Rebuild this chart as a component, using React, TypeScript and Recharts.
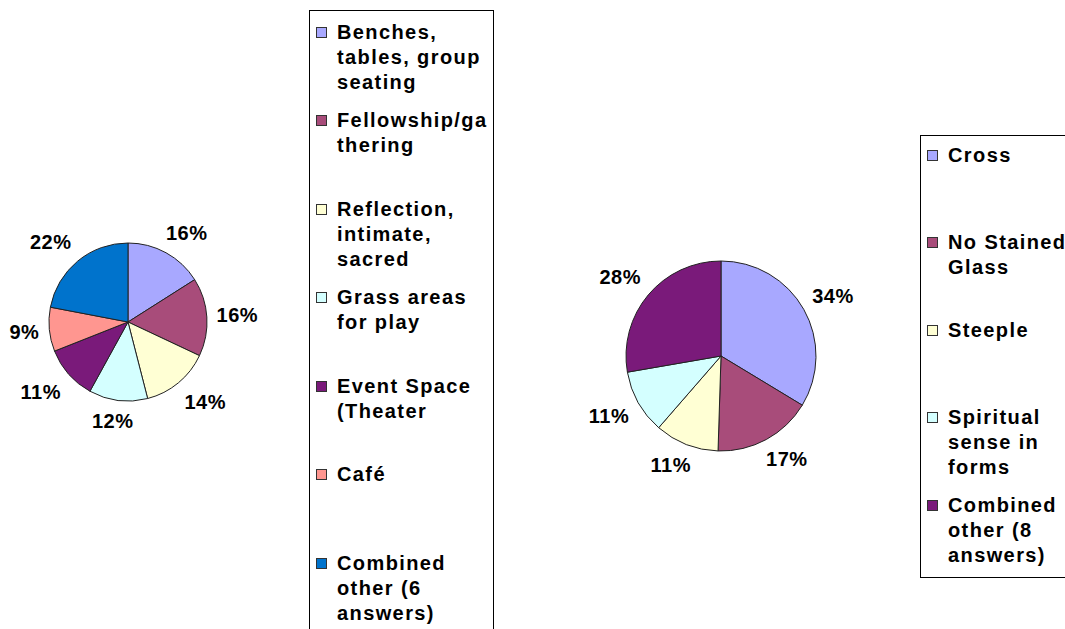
import React from 'react';
import { PieChart, Pie, Cell, Legend } from 'recharts';

// left chart: what people want around the church
const leftNames = [
  'Benches,\ntables, group\nseating',
  'Fellowship/ga\nthering',
  'Reflection,\nintimate,\nsacred',
  'Grass areas\nfor play',
  'Event Space\n(Theater',
  'Café',
  'Combined\nother (6\nanswers)',
];
const leftValues = [16, 16, 14, 12, 11, 9, 22];
const leftColors = ['#A8A8FF', '#A84C7A', '#FFFFD4', '#D4FFFF', '#7A1A7A', '#FF9690', '#0073CC'];

// right chart: building symbols
const rightNames = [
  'Cross',
  'No Stained\nGlass',
  'Steeple',
  'Spiritual\nsense in\nforms',
  'Combined\nother (8\nanswers)',
];
const rightValues = [34, 17, 11, 11, 28];
const rightColors = ['#A8A8FF', '#A84C7A', '#FFFFD4', '#D4FFFF', '#7A1A7A'];

const FONT = '"Liberation Sans", Arial, sans-serif';

const toRows = (names: string[], values: number[]) =>
  names.map((name, i) => ({ name, value: values[i] }));

const clamp = (v: number) => Math.max(-1, Math.min(1, v * 1.6));

// Excel-style outside labels: box sits just off the rim
const renderLabel = (props: any) => {
  const { cx, cy, midAngle, outerRadius, value } = props;
  const rad = Math.PI / 180;
  const cos = Math.cos(midAngle * rad);
  const sin = Math.sin(midAngle * rad);
  const text = `${value}%`;
  const R = outerRadius + 10;
  const w = text.length * 11 + 8;
  const h = 22;
  const x = cx + R * cos + (clamp(cos) * w) / 2;
  const y = cy - R * sin - (clamp(sin) * h) / 2;
  return (
    <text
      x={x}
      y={y}
      textAnchor="middle"
      dominantBaseline="central"
      fill="#000"
      fontFamily={FONT}
      fontWeight="bold"
      fontSize={20}
      letterSpacing={0.5}
    >
      {text}
    </text>
  );
};

interface BoxLegendProps {
  names: string[];
  colors: string[];
  width: number;
  height: number;
  padTop: number;
  itemHeight: number;
}

const BoxLegend = ({ names, colors, width, height, padTop, itemHeight }: BoxLegendProps) => (
  <div
    style={{
      width,
      height,
      border: '1px solid #000',
      boxSizing: 'border-box',
      background: '#fff',
      paddingTop: padTop,
      fontFamily: FONT,
      fontWeight: 'bold',
      fontSize: 20,
      letterSpacing: 1.4,
      color: '#000',
    }}
  >
    {names.map((n, i) => (
      <div key={i} style={{ height: itemHeight, display: 'flex', alignItems: 'flex-start' }}>
        <span
          style={{
            display: 'inline-block',
            width: 11,
            height: 11,
            boxSizing: 'border-box',
            border: '1.5px solid #333',
            background: colors[i],
            marginLeft: 6,
            marginTop: 7,
            marginRight: 10,
            flex: 'none',
          }}
        />
        <span style={{ whiteSpace: 'pre', lineHeight: '25px' }}>{n}</span>
      </div>
    ))}
  </div>
);

export default function App() {
  const leftData = toRows(leftNames, leftValues);
  const rightData = toRows(rightNames, rightValues);
  const noMargin = { top: 0, right: 0, bottom: 0, left: 0 };

  return (
    <div
      style={{
        position: 'absolute',
        left: 0,
        top: 0,
        width: 1065,
        height: 629,
        overflow: 'hidden',
        background: '#fff',
      }}
    >
      <div style={{ position: 'absolute', left: 0, top: 0 }}>
        <PieChart width={500} height={629} margin={noMargin}>
          <Pie
            data={leftData}
            dataKey="value"
            nameKey="name"
            cx={128}
            cy={322}
            outerRadius={79}
            startAngle={90}
            endAngle={-270}
            stroke="#222"
            strokeWidth={1}
            label={renderLabel}
            labelLine={false}
            isAnimationActive={false}
          >
            {leftData.map((_, i) => (
              <Cell key={i} fill={leftColors[i]} />
            ))}
          </Pie>
          <Legend
            layout="vertical"
            align="right"
            verticalAlign="top"
            wrapperStyle={{ left: 309, top: 10, width: 185, height: 640 }}
            content={() => (
              <BoxLegend
                names={leftNames}
                colors={leftColors}
                width={185}
                height={640}
                padTop={8.5}
                itemHeight={88.5}
              />
            )}
          />
        </PieChart>
      </div>

      <div style={{ position: 'absolute', left: 500, top: 0 }}>
        <PieChart width={565} height={629} margin={noMargin}>
          <Pie
            data={rightData}
            dataKey="value"
            nameKey="name"
            cx={221}
            cy={356}
            outerRadius={95}
            startAngle={90}
            endAngle={-270}
            stroke="#222"
            strokeWidth={1}
            label={renderLabel}
            labelLine={false}
            isAnimationActive={false}
          >
            {rightData.map((_, i) => (
              <Cell key={i} fill={rightColors[i]} />
            ))}
          </Pie>
          <Legend
            layout="vertical"
            align="right"
            verticalAlign="top"
            wrapperStyle={{ left: 420, top: 135, width: 200, height: 443 }}
            content={() => (
              <BoxLegend
                names={rightNames}
                colors={rightColors}
                width={200}
                height={443}
                padTop={6.5}
                itemHeight={87.5}
              />
            )}
          />
        </PieChart>
      </div>
    </div>
  );
}
